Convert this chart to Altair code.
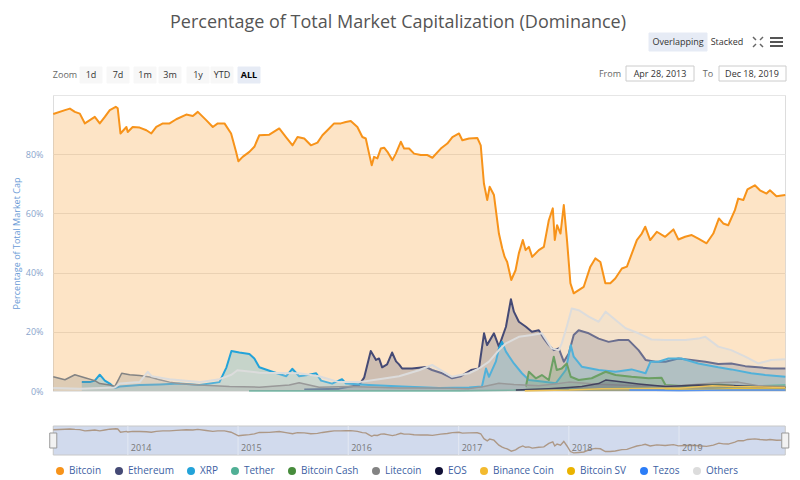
import altair as alt
import pandas as pd

FONT = "Open Sans"

series_names = ["Bitcoin", "Ethereum", "XRP", "Tether", "Bitcoin Cash", "Litecoin",
                "EOS", "Binance Coin", "Bitcoin SV", "Tezos", "Others"]
series_colors = ["#f7931a", "#454a75", "#23a3d9", "#50af95", "#478c3c", "#838383",
                 "#101035", "#f3ba2f", "#eab300", "#2c7df7", "#dcdcdc"]

# time as decimal years, values in % of total market cap
btc_t = [2013.323, 2013.429, 2013.474, 2013.519, 2013.564, 2013.610, 2013.655, 2013.700, 2013.745, 2013.791,
         2013.836, 2013.890, 2013.908, 2013.933, 2013.987, 2013.999, 2014.044, 2014.107, 2014.168, 2014.213,
         2014.258, 2014.318, 2014.379, 2014.439, 2014.530, 2014.590, 2014.635, 2014.711, 2014.771, 2014.816,
         2014.877, 2014.937, 2014.982, 2015.003, 2015.042, 2015.103, 2015.148, 2015.193, 2015.284, 2015.374,
         2015.435, 2015.495, 2015.540, 2015.601, 2015.661, 2015.721, 2015.766, 2015.827, 2015.872, 2015.933,
         2015.978, 2016.023, 2016.083, 2016.128, 2016.159, 2016.189, 2016.213, 2016.234, 2016.264, 2016.295,
         2016.325, 2016.355, 2016.400, 2016.431, 2016.476, 2016.506, 2016.551, 2016.596, 2016.657, 2016.717,
         2016.762, 2016.838, 2016.897, 2016.943, 2017.003, 2017.033, 2017.094, 2017.169, 2017.200, 2017.229,
         2017.259, 2017.281, 2017.320, 2017.365, 2017.395, 2017.417, 2017.440, 2017.477, 2017.516, 2017.546,
         2017.582, 2017.607, 2017.637, 2017.667, 2017.727, 2017.773, 2017.818, 2017.854, 2017.872, 2017.893,
         2017.924, 2017.954, 2017.983, 2018.014, 2018.044, 2018.089, 2018.135, 2018.195, 2018.240, 2018.286,
         2018.331, 2018.376, 2018.421, 2018.481, 2018.527, 2018.572, 2018.617, 2018.662, 2018.693, 2018.738,
         2018.798, 2018.874, 2018.949, 2018.994, 2019.055, 2019.115, 2019.175, 2019.250, 2019.311, 2019.362,
         2019.401, 2019.446, 2019.507, 2019.537, 2019.583, 2019.621, 2019.688, 2019.734, 2019.794, 2019.825,
         2019.884, 2019.964]
btc_v = [93.6, 94.9, 95.4, 94.3, 93.7, 90.4, 91.5, 92.6, 90.4, 92.6,
         94.9, 96.0, 95.5, 87.0, 89.2, 87.5, 89.2, 89.0, 88.1, 87.0,
         89.2, 90.4, 90.4, 91.8, 93.4, 92.9, 94.3, 91.5, 89.2, 90.4,
         90.4, 87.0, 80.8, 77.6, 79.1, 80.8, 82.5, 86.4, 86.6, 88.7,
         85.8, 83.0, 85.8, 85.3, 83.0, 83.9, 86.4, 88.7, 90.4, 90.4,
         90.9, 91.2, 89.2, 85.8, 85.3, 80.2, 76.3, 79.1, 78.6, 81.9,
         82.2, 80.8, 78.0, 80.2, 84.2, 81.9, 81.9, 80.2, 79.7, 79.7,
         78.8, 81.9, 83.6, 85.8, 87.0, 84.7, 85.3, 85.5, 83.0, 70.1,
         64.5, 69.0, 66.2, 53.2, 48.2, 45.3, 43.6, 37.5, 40.8, 46.5,
         51.0, 47.6, 48.7, 45.3, 47.6, 48.7, 57.7, 61.7, 51.0, 56.0,
         53.2, 62.8, 51.0, 36.4, 33.0, 34.1, 35.2, 42.0, 44.8, 43.6,
         36.4, 36.4, 38.0, 41.4, 42.0, 46.5, 51.0, 53.2, 55.5, 51.0,
         53.8, 52.1, 54.6, 51.2, 52.1, 52.7, 51.5, 49.9, 53.2, 58.3,
         56.6, 56.0, 61.1, 65.0, 64.5, 68.1, 69.5, 67.8, 66.7, 67.8,
         65.8, 66.2]

eth_t = [2015.601, 2015.917, 2016.098, 2016.144, 2016.204, 2016.252, 2016.279, 2016.307, 2016.352, 2016.397,
         2016.433, 2016.460, 2016.488, 2016.578, 2016.705, 2016.759, 2016.850, 2016.940, 2017.021, 2017.112,
         2017.184, 2017.230, 2017.257, 2017.320, 2017.365, 2017.429, 2017.474, 2017.501, 2017.546, 2017.610,
         2017.664, 2017.727, 2017.773, 2017.818, 2017.863, 2017.908, 2017.954, 2017.999, 2018.044, 2018.089,
         2018.180, 2018.270, 2018.361, 2018.451, 2018.542, 2018.632, 2018.696, 2018.786, 2018.877, 2018.994,
         2019.112, 2019.239, 2019.356, 2019.474, 2019.601, 2019.718, 2019.836, 2019.964]
eth_v = [0.5, 0.8, 2.0, 4.5, 13.5, 10.5, 11.0, 8.0, 9.0, 13.0,
         10.0, 9.0, 7.6, 7.6, 8.1, 7.1, 6.0, 4.3, 5.0, 7.1,
         7.6, 19.5, 15.5, 19.5, 15.0, 21.7, 31.0, 26.8, 23.4, 21.7,
         20.0, 20.5, 17.7, 15.5, 13.8, 14.4, 9.9, 12.7, 18.9, 20.5,
         19.5, 17.7, 16.6, 17.2, 17.2, 13.8, 10.5, 9.9, 9.9, 11.0,
         10.5, 9.9, 9.1, 9.3, 8.4, 8.0, 7.6, 7.6]

xrp_t = [2013.582, 2013.655, 2013.700, 2013.745, 2013.791, 2013.836, 2013.881, 2013.926, 2014.107, 2014.288,
         2014.469, 2014.650, 2014.831, 2014.895, 2014.940, 2015.012, 2015.103, 2015.148, 2015.193, 2015.311,
         2015.438, 2015.492, 2015.555, 2015.646, 2015.709, 2015.754, 2015.854, 2015.944, 2015.980, 2016.189,
         2016.488, 2016.822, 2017.094, 2017.211, 2017.248, 2017.275, 2017.338, 2017.365, 2017.393, 2017.429,
         2017.501, 2017.574, 2017.637, 2017.755, 2017.881, 2017.972, 2018.017, 2018.044, 2018.117, 2018.270,
         2018.424, 2018.569, 2018.696, 2018.741, 2018.813, 2018.904, 2019.022, 2019.175, 2019.356, 2019.474,
         2019.655, 2019.782, 2019.964]
xrp_v = [3.0, 3.0, 3.5, 5.5, 3.5, 2.5, 1.0, 1.5, 2.0, 2.2,
         2.5, 2.0, 3.0, 8.0, 13.5, 13.0, 12.5, 11.0, 8.0, 6.5,
         5.0, 7.5, 5.0, 5.5, 6.0, 3.5, 2.5, 4.0, 2.5, 2.0,
         1.5, 1.0, 1.2, 1.5, 7.6, 4.8, 10.0, 14.4, 16.6, 13.3,
         9.3, 6.0, 3.7, 3.2, 2.6, 7.1, 15.5, 11.6, 8.2, 7.1,
         6.5, 7.3, 6.0, 9.9, 9.9, 11.0, 11.0, 9.3, 8.0, 7.3,
         6.0, 5.4, 4.8]

usdt_t = [2015.100, 2015.600, 2016.000, 2016.500, 2017.000, 2017.500, 2017.900, 2018.100, 2018.500, 2018.800,
          2019.000, 2019.300, 2019.500, 2019.964]
usdt_v = [0.05, 0.05, 0.1, 0.1, 0.1, 0.3, 0.8, 0.6, 1.0, 1.3, 1.7, 1.6, 1.3, 2.1]

bch_t = [2017.610, 2017.637, 2017.700, 2017.755, 2017.818, 2017.863, 2017.890, 2017.935, 2017.981, 2018.017,
         2018.089, 2018.207, 2018.334, 2018.424, 2018.569, 2018.723, 2018.841, 2018.877, 2019.022, 2019.175,
         2019.356, 2019.537, 2019.718, 2019.964]
bch_v = [1.5, 6.5, 4.3, 5.4, 3.7, 11.6, 7.1, 7.6, 9.3, 4.8,
         3.7, 4.3, 6.5, 5.4, 4.8, 4.3, 4.5, 2.0, 1.7, 1.9,
         2.2, 1.6, 1.5, 1.4]

ltc_t = [2013.323, 2013.429, 2013.519, 2013.610, 2013.700, 2013.745, 2013.836, 2013.881, 2013.917, 2013.944,
         2014.017, 2014.107, 2014.198, 2014.288, 2014.379, 2014.469, 2014.650, 2014.922, 2015.193, 2015.465,
         2015.555, 2015.736, 2016.008, 2016.460, 2016.822, 2017.094, 2017.230, 2017.365, 2017.501, 2017.727,
         2017.908, 2017.999, 2018.270, 2018.632, 2018.994, 2019.356, 2019.537, 2019.718, 2019.964]
ltc_v = [4.8, 3.8, 5.5, 4.5, 3.5, 2.5, 2.0, 1.5, 4.0, 6.0,
         5.5, 5.2, 4.7, 3.8, 3.0, 2.5, 2.0, 1.5, 1.3, 2.0,
         2.8, 1.3, 1.5, 1.0, 1.0, 0.8, 1.5, 2.6, 2.2, 1.8,
         2.5, 3.0, 2.3, 1.8, 1.8, 2.8, 3.0, 1.8, 1.5]

eos_t = [2017.519, 2017.818, 2017.999, 2018.117, 2018.270, 2018.334, 2018.451, 2018.632, 2018.877, 2019.175,
         2019.474, 2019.718, 2019.964]
eos_v = [0.3, 0.8, 1.2, 1.5, 2.5, 3.7, 3.2, 2.4, 1.5, 2.0, 1.9, 1.4, 1.2]

bnb_t = [2017.600, 2018.000, 2018.300, 2018.800, 2019.000, 2019.300, 2019.500, 2019.964]
bnb_v = [0.1, 0.3, 0.8, 0.9, 0.9, 1.8, 1.5, 1.2]

bsv_t = [2018.870, 2019.000, 2019.300, 2019.500, 2019.964]
bsv_v = [0.6, 0.5, 0.4, 0.8, 0.6]

xtz_t = [2018.550, 2019.000, 2019.500, 2019.964]
xtz_v = [0.3, 0.2, 0.3, 0.3]

oth_t = [2013.323, 2013.564, 2013.881, 2013.926, 2014.107, 2014.180, 2014.216, 2014.379, 2014.650, 2014.831,
         2014.940, 2014.994, 2015.193, 2015.555, 2015.736, 2015.917, 2016.098, 2016.279, 2016.460, 2016.641,
         2016.759, 2016.940, 2017.094, 2017.184, 2017.275, 2017.365, 2017.429, 2017.546, 2017.664, 2017.755,
         2017.845, 2017.908, 2017.935, 2017.981, 2018.026, 2018.089, 2018.180, 2018.270, 2018.334, 2018.424,
         2018.515, 2018.632, 2018.750, 2018.877, 2019.058, 2019.175, 2019.239, 2019.356, 2019.474, 2019.601,
         2019.718, 2019.836, 2019.964]
oth_v = [1.0, 0.8, 1.2, 2.5, 3.0, 6.5, 5.0, 4.0, 3.0, 4.0,
         5.5, 7.0, 6.2, 6.0, 5.0, 3.0, 3.0, 4.0, 5.0, 7.0,
         8.8, 4.8, 6.0, 7.6, 9.9, 13.8, 16.1, 18.3, 18.9, 19.5,
         14.4, 13.8, 16.1, 21.7, 27.9, 27.3, 25.1, 23.4, 26.8, 24.0,
         21.2, 19.5, 17.4, 17.2, 17.2, 17.7, 18.3, 15.0, 13.8, 11.6,
         9.3, 10.5, 10.7]

x_tick_months = [(2013, 7), (2014, 1), (2014, 7), (2015, 1), (2015, 7), (2016, 1), (2016, 7),
                 (2017, 1), (2017, 7), (2018, 1), (2018, 7), (2019, 1), (2019, 7)]
nav_years = ["2014", "2015", "2016", "2017", "2018", "2019"]
zoom_buttons = ["1d", "7d", "1m", "3m", "1y", "YTD", "ALL"]
range_from = "Apr 28, 2013"
range_to = "Dec 18, 2019"


def dec_to_date(t):
    y = int(t)
    start = pd.Timestamp(year=y, month=1, day=1)
    end = pd.Timestamp(year=y + 1, month=1, day=1)
    return (start + (end - start) * (t - y)).strftime("%Y-%m-%dT%H:%M:%S")


series_data = [btc_t, eth_t, xrp_t, usdt_t, bch_t, ltc_t, eos_t, bnb_t, bsv_t, xtz_t, oth_t]
series_vals = [btc_v, eth_v, xrp_v, usdt_v, bch_v, ltc_v, eos_v, bnb_v, bsv_v, xtz_v, oth_v]
rows = []
for name, ts, vs in zip(series_names, series_data, series_vals):
    assert len(ts) == len(vs), name
    for t, v in zip(ts, vs):
        rows.append({"series": name, "date": dec_to_date(t), "value": v})
df = pd.DataFrame(rows)

START = alt.DateTime(year=2013, month=4, date=28)
END = alt.DateTime(year=2019, month=12, date=18)

W, H = 732, 296
NAV_TOP, NAV_BOT = 331, 360
NAV_MID = (NAV_TOP + NAV_BOT) / 2

x_enc = alt.X(
    "date:T",
    scale=alt.Scale(domain=[START, END]),
    axis=alt.Axis(
        values=[alt.DateTime(year=y, month=m, date=1) for y, m in x_tick_months],
        format="%b '%y", title=None, grid=False,
        domainColor="#ccd6eb", tickColor="#ccd6eb", tickSize=6,
        labelColor="#555555", labelFontSize=9, labelPadding=2,
    ),
)
y_enc = alt.Y(
    "value:Q",
    scale=alt.Scale(domain=[0, 100], nice=False),
    axis=alt.Axis(
        values=[0, 20, 40, 60, 80, 100],
        labelExpr="datum.value < 100 ? datum.value + '%' : ''",
        grid=True, gridColor="#e6e6e6", domain=False, ticks=False,
        labelColor="#8aa5cc", labelFontSize=9, labelPadding=10,
        title="Percentage of Total Market Cap", titleX=-37, titleY=148,
        titleAngle=270, titleAlign="center", titleBaseline="middle",
        titleColor="#6a9bd6", titleFontSize=9, titleFontWeight="normal",
    ),
)
color_scale = alt.Scale(domain=series_names, range=series_colors)
legend = alt.Legend(
    orient="none", legendX=2, legendY=371, direction="horizontal", title=None,
    symbolType="circle", symbolSize=64, symbolOpacity=1, symbolStrokeWidth=0,
    labelFontSize=10, labelColor="#3e5fa3", labelOffset=4, columnPadding=12,
)

series_layers = []
for name in series_names:
    base = alt.Chart(df).transform_filter(alt.datum.series == name)
    area = base.mark_area(fillOpacity=0.25, strokeWidth=0).encode(
        x=x_enc, y=y_enc, color=alt.Color("series:N", scale=color_scale, legend=legend))
    line = base.mark_line(strokeWidth=2 if name in ("Bitcoin", "Ethereum", "XRP", "Others", "Bitcoin Cash") else 1.5,
                          strokeJoin="round").encode(
        x=x_enc, y=y_enc, color=alt.Color("series:N", scale=color_scale, legend=None))
    series_layers += [area, line]
main = alt.layer(*series_layers)

# navigator
nav_range = pd.DataFrame({"s": [dec_to_date(2013.323)], "e": [dec_to_date(2019.964)]})
nav_band = alt.Chart(nav_range).mark_rect(fill="#d1daed", stroke="#c8c8c8", strokeWidth=1).encode(
    x=alt.X("s:T", axis=None), x2="e:T", y=alt.value(NAV_TOP), y2=alt.value(NAV_BOT))
nav_year_df = pd.DataFrame({"label": nav_years, "d": [f"{y}-01-01T00:00:00" for y in nav_years]})
nav_grid = alt.Chart(nav_year_df).mark_rule(color="#e3e8f2", strokeWidth=1).encode(
    x=alt.X("d:T", axis=None), y=alt.value(NAV_TOP), y2=alt.value(NAV_BOT))
nav_labels = alt.Chart(nav_year_df).mark_text(align="left", dx=3, fontSize=9, color="#777777",
                                               baseline="middle").encode(
    x=alt.X("d:T", axis=None), y=alt.value(NAV_BOT - 7), text="label:N")
nav_line = alt.Chart(df).transform_filter(alt.datum.series == "Bitcoin").mark_line(
    color="#ad9886", strokeWidth=1.4).encode(
    x=alt.X("date:T", axis=None),
    y=alt.Y("value:Q", scale=alt.Scale(domain=[30, 98], range=[NAV_BOT - 1, NAV_TOP + 2], nice=False), axis=None))
nav_ends = pd.DataFrame({"d": [dec_to_date(2013.323), dec_to_date(2019.964)]})
nav_handles = alt.Chart(nav_ends).mark_point(
    shape="M-0.47,-1L0.47,-1L0.47,1L-0.47,1Z", size=225, filled=True,
    fill="#f2f2f2", stroke="#999999", strokeWidth=1, opacity=1).encode(
    x=alt.X("d:T", axis=None), y=alt.value(NAV_MID))

# decorations (UI controls of the original page)
one = pd.DataFrame({"k": [0]})


def txt(s, x, y, size=9, color="#333333", align="center", weight="normal"):
    return alt.Chart(one).mark_text(text=s, fontSize=size, color=color, align=align,
                                    baseline="middle", fontWeight=weight).encode(
        x=alt.value(x), y=alt.value(y))


def box(x1, x2, y1, y2, fill, stroke=None):
    return alt.Chart(one).mark_rect(fill=fill, stroke=stroke if stroke else fill, strokeWidth=1).encode(
        x=alt.value(x1), x2=alt.value(x2), y=alt.value(y1), y2=alt.value(y2))


def seg(x1, y1, x2, y2, color="#666666", w=1.5):
    return alt.Chart(one).mark_rule(color=color, strokeWidth=w).encode(
        x=alt.value(x1), x2=alt.value(x2), y=alt.value(y1), y2=alt.value(y2))


deco = [txt("Percentage of Total Market Capitalization (Dominance)", 345, -72, size=18, color="#555555")]
deco += [box(596, 654, -62, -44, "#e6ebf5"), txt("Overlapping", 625, -53),
         txt("Stacked", 674, -53)]
# expand icon
cx, cy = 705, -53
deco += [seg(cx - 5, cy - 5, cx - 2, cy - 2), seg(cx + 5, cy - 5, cx + 2, cy - 2),
         seg(cx - 5, cy + 5, cx - 2, cy + 2), seg(cx + 5, cy + 5, cx + 2, cy + 2)]
# menu icon
for yy in (-57, -53, -49):
    deco.append(seg(717, yy, 730, yy, "#555555", 2))
# zoom buttons
deco.append(txt("Zoom", 12, -20, color="#666666"))
btn_x = [38, 65, 92, 117, 145, 169, 196]
for lab, bx in zip(zoom_buttons, btn_x):
    sel = lab == "ALL"
    deco.append(box(bx - 11, bx + 11, -28, -12, "#e6ebf5" if sel else "#f7f7f7"))
    deco.append(txt(lab, bx, -20, color="#000000" if sel else "#333333", weight="bold" if sel else "normal"))
# range inputs
deco += [txt("From", 557, -21, color="#666666"),
         box(573, 641, -29, -14, "#ffffff", "#cccccc"), txt(range_from, 607, -21),
         txt("To", 655, -21, color="#666666"),
         box(666, 733, -29, -14, "#ffffff", "#cccccc"), txt(range_to, 699, -21)]

chart = alt.layer(
    main, nav_band, nav_grid, nav_line, nav_labels, nav_handles, *deco
).resolve_scale(y="independent").properties(
    width=W, height=H, padding={"left": 4, "top": 6, "right": 0, "bottom": 0}
).configure_view(stroke=None).configure(font=FONT)

chart.save("out.html", embed_options={"renderer": "svg", "actions": False})
